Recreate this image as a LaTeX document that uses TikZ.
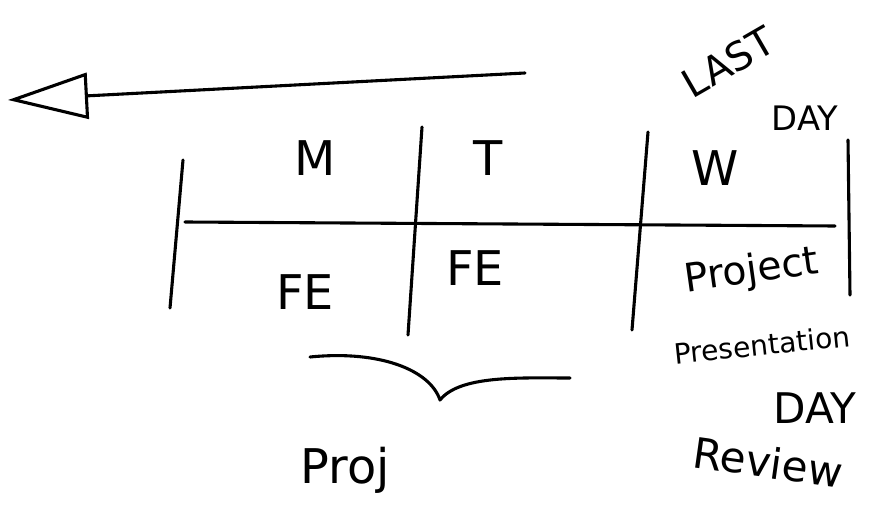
\documentclass[tikz,border=0pt]{standalone}
\usepackage{fontspec}
\setmainfont{DejaVu Sans}
\usetikzlibrary{arrows.meta}

\tikzset{
  stroke/.style={line width=2.2pt, line cap=round, line join=round},
  hand/.style={font=\fontsize{34}{38}\selectfont, inner sep=0pt},
  small hand/.style={hand, font=\fontsize{24}{28}\selectfont},
}

\begin{document}
\begin{tikzpicture}[x=0.025cm, y=-0.025cm]
\useasboundingbox (0,0) rectangle (880,517);

% arrow
\coordinate (arrS) at (525,73);
\coordinate (arrE) at (8,100);
\draw[stroke, -{Triangle[open, length=2cm, width=1.15cm, line width=2.2pt]}] (arrS) -- (arrE);

% grid
\coordinate (hL) at (185,222);
\coordinate (hR) at (835,226);
\draw[stroke] (hL) -- (hR);

\coordinate (v1t) at (183,160); \coordinate (v1b) at (170,308);
\coordinate (v2t) at (422,127); \coordinate (v2b) at (408,335);
\coordinate (v3t) at (648,132); \coordinate (v3b) at (632,330);
\coordinate (v4t) at (848,140); \coordinate (v4b) at (850,295);
\foreach \v in {1,...,4} \draw[stroke] (v\v t) -- (v\v b);

% days
\node[hand] (mon) at (315,158) {M};
\node[hand] (tue) at (488,158) {T};
\node[hand] (wed) at (715,168) {W};

\node[hand] (fe1) at (305,292) {FE};
\node[hand] (fe2) at (475,268) {FE};

% last day
\node[small hand, font=\fontsize{28}{32}\selectfont, rotate=30] (last) at (728,62) {LAST};
\node[small hand] (lday) at (805,118) {DAY};

% wednesday text
\node[small hand, font=\fontsize{28}{32}\selectfont, rotate=8] (proj) at (752,272) {Project};
\node[small hand, font=\fontsize{20}{24}\selectfont, rotate=6] (pres) at (762,345) {Presentation};
\node[hand, font=\fontsize{30}{34}\selectfont] (day) at (815,408) {DAY};
\node[hand, font=\fontsize{30}{34}\selectfont, rotate=-8] (rev) at (768,462) {Review};

% brace
\coordinate (bL) at (310,357);
\coordinate (bM) at (440,400);
\coordinate (bR) at (570,378);
\draw[stroke] (bL) .. controls (380,350) and (430,370) .. (bM)
  .. controls (460,375) and (520,378) .. (bR);

\node[hand] (pj) at (345,470) {Proj};

\end{tikzpicture}
\end{document}
